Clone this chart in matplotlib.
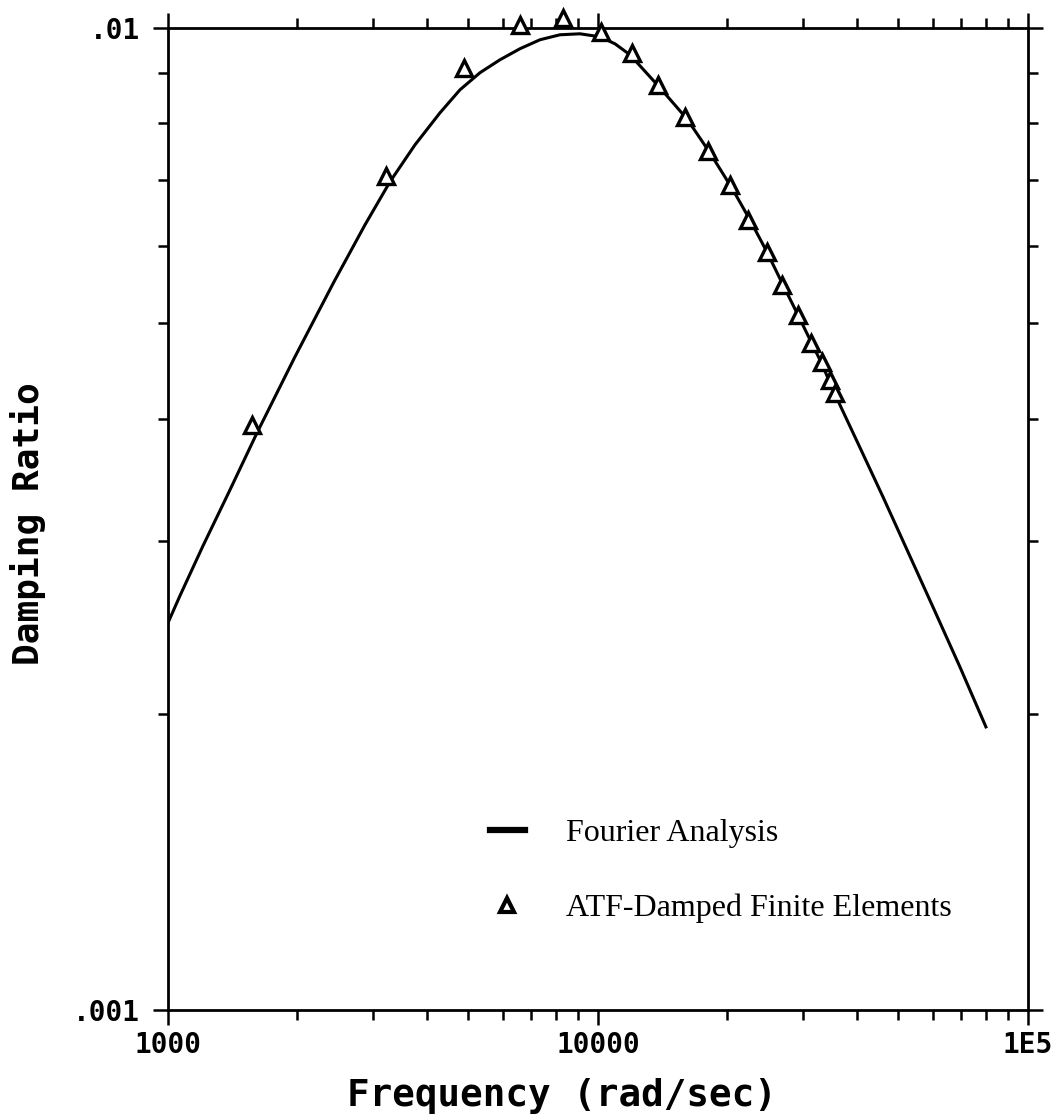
import matplotlib
matplotlib.use("Agg")
import matplotlib.pyplot as plt
from matplotlib.ticker import FixedLocator, FixedFormatter, LogLocator, NullFormatter

# Fourier analysis curve
fourier_freq = [1000, 1066, 1206, 1394, 1611, 1974, 2433, 2872, 3283, 3754,
                4292, 4777, 5317, 5917, 6585, 7331, 8158, 9081, 10108, 10953,
                11870, 13940, 16106, 18218, 20606, 22570, 24717, 26792, 29180,
                32830, 36543, 41112, 46000, 52605, 60120, 69482, 79860]
fourier_damp = [0.002478, 0.002640, 0.002968, 0.003385, 0.003869, 0.004624,
                0.005513, 0.006300, 0.006969, 0.007600, 0.008193, 0.008647,
                0.009000, 0.009277, 0.009520, 0.009723, 0.009837, 0.009860,
                0.009791, 0.009632, 0.009387, 0.008688, 0.008077, 0.007459,
                0.006840, 0.006374, 0.005913, 0.005500, 0.005101, 0.004591,
                0.004131, 0.003701, 0.003331, 0.002927, 0.002573, 0.002235,
                0.001942]

# ATF-damped finite element results
atf_freq = [1568, 3213, 4879, 6586, 8291, 10160, 12000, 13790, 15930, 18020,
            20280, 22330, 24720, 26800, 29170, 31280, 33190, 34640, 35590]
atf_damp = [0.003941, 0.007069, 0.009106, 0.01007, 0.01024, 0.009907,
            0.009430, 0.008749, 0.008116, 0.007494, 0.006920, 0.006374,
            0.005915, 0.005474, 0.005102, 0.004777, 0.004570, 0.004380,
            0.004249]

x_ticks = [1000, 10000, 100000]
x_tick_labels = ["1000", "10000", "1E5"]
y_ticks = [0.001, 0.01]
y_tick_labels = [".001", ".01"]

mono = "DejaVu Sans Mono"
serif = "Liberation Serif"

fig = plt.figure(figsize=(10.63, 11.2), dpi=100)
ax = fig.add_axes([0.158, 0.0982, 0.809, 0.877])

ax.plot(fourier_freq, fourier_damp, color="black", linewidth=2.2,
        label="Fourier Analysis", zorder=2)
ax.plot(atf_freq, atf_damp, linestyle="none", marker="^", markersize=11,
        markerfacecolor="white", markeredgecolor="black", markeredgewidth=2.4,
        clip_on=False, label="ATF-Damped Finite Elements", zorder=3)

ax.set_xscale("log")
ax.set_yscale("log")
ax.set_xlim(1000, 100000)
ax.set_ylim(0.001, 0.01)

ax.xaxis.set_major_locator(FixedLocator(x_ticks))
ax.xaxis.set_major_formatter(FixedFormatter(x_tick_labels))
ax.yaxis.set_major_locator(FixedLocator(y_ticks))
ax.yaxis.set_major_formatter(FixedFormatter(y_tick_labels))
for axis in (ax.xaxis, ax.yaxis):
    axis.set_minor_locator(LogLocator(base=10, subs=range(2, 10)))
    axis.set_minor_formatter(NullFormatter())

ax.tick_params(which="both", direction="out", top=True, right=True,
               width=1.8, colors="black")
ax.tick_params(which="major", length=11)
ax.tick_params(which="minor", length=7)
ax.tick_params(axis="x", which="major", pad=4)
ax.tick_params(axis="y", which="major", pad=9)
for lab in ax.get_xticklabels() + ax.get_yticklabels():
    lab.set_fontfamily(mono)
    lab.set_fontweight("bold")
    lab.set_fontsize(20)

for sp in ax.spines.values():
    sp.set_linewidth(2.0)

fig.text(562 / 1063, 1 - 1096 / 1120, "Frequency (rad/sec)", family=mono,
         fontweight="bold", fontsize=27, ha="center", va="center")
fig.text(28 / 1063, 1 - 524 / 1120, "Damping Ratio", family=mono,
         fontweight="bold", fontsize=26, rotation=90, ha="center", va="center")

leg = ax.legend(loc="upper left", bbox_to_anchor=(0.374, 0.195), frameon=False,
                borderpad=0, borderaxespad=0, handlelength=1.1,
                handletextpad=1.3, labelspacing=1.42,
                prop={"family": serif, "size": 23})
leg.legend_handles[0].set_linewidth(4.5)
leg.legend_handles[1].set_markersize(10)
leg.legend_handles[1].set_markeredgewidth(3)

fig.savefig("out.png", dpi=100)
